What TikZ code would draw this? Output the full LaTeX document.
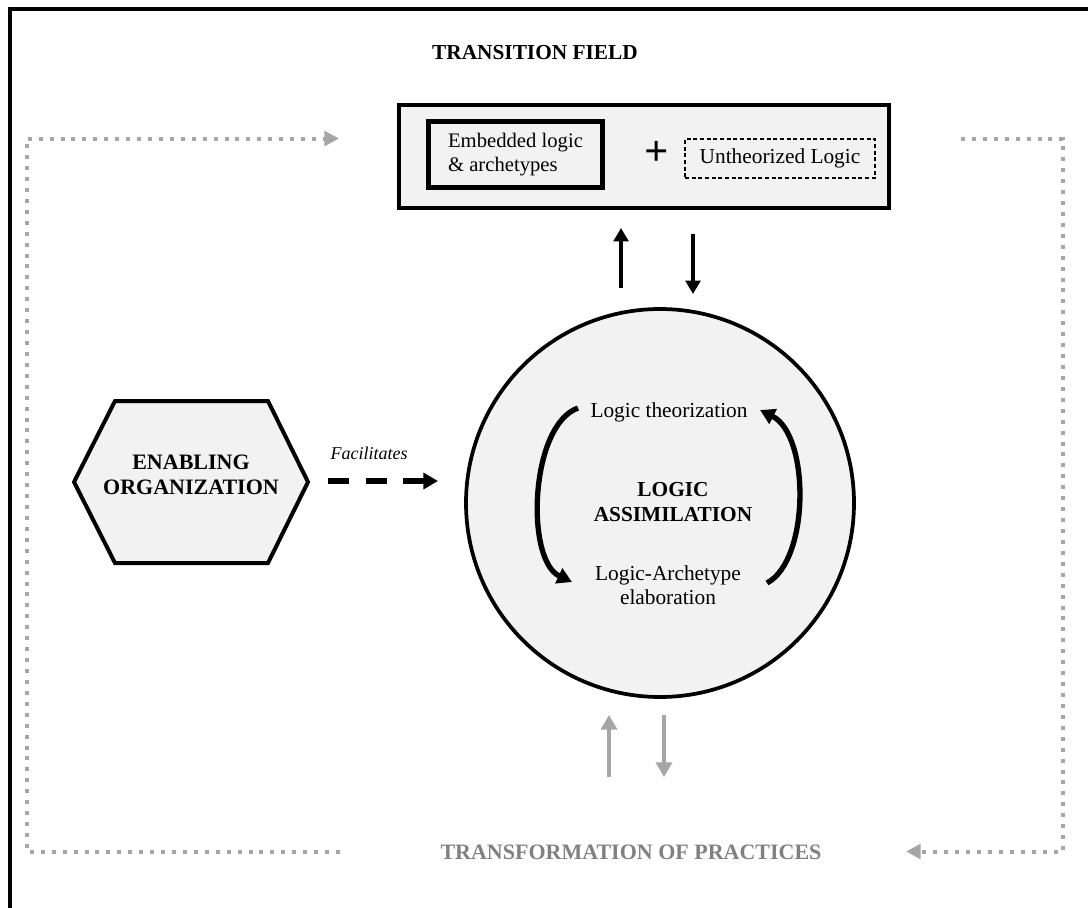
\documentclass[tikz,border=0pt]{standalone}
\usepackage{fontspec}
\setmainfont{Liberation Serif}
\usetikzlibrary{arrows.meta}
\definecolor{boxgray}{HTML}{F2F2F2}
\definecolor{loopgray}{HTML}{A6A6A6}
\definecolor{textgray}{HTML}{808080}
\tikzset{
  boldlabel/.style={font=\fontsize{16}{18.75}\selectfont\bfseries, align=center},
  thinlabel/.style={font=\fontsize{16}{18}\selectfont, align=center},
  blackarrow/.style={line width=3.2pt, -{Triangle[length=10pt,width=11pt]}},
  grayarrow/.style={line width=3.6pt, draw=loopgray, -{Triangle[length=11pt,width=12pt]}, color=loopgray},
  loopline/.style={line width=3pt, draw=loopgray, dash pattern=on 3pt off 5.2pt},
  looparrow/.style={loopline, -{Triangle[length=11pt,width=11pt,fill=loopgray]}},
  cyclearrow/.style={line width=4pt, -{Triangle[length=11pt,width=12pt]}},
}
\begin{document}
\begin{tikzpicture}[x=0.75pt,y=-0.75pt]
\useasboundingbox (0,0) rectangle (1088,907);
% outer frame (right and bottom edges lie beyond the picture)
\draw[line width=3pt] (1100,8.5) -- (9.5,8.5) -- (9.5,920);

% title
\node[boldlabel] (title) at (535,53) {TRANSITION FIELD};

% transition field box
\node[draw, line width=2.5pt, fill=boxgray, minimum width=367.5pt, minimum height=77.25pt, inner sep=0pt] (tf) at (644,156.5) {};
\node[draw, line width=3.6pt, fill=boxgray, minimum width=131pt, minimum height=49pt, align=left, font=\fontsize{15.5}{18.5}\selectfont] (emb) at (515.5,154.5) {Embedded logic\\\& archetypes};
\node[font=\fontsize{32}{32}\selectfont\bfseries] (plus) at (657,153) {+};
\node[draw, line width=0.9pt, dash pattern=on 3pt off 2pt, minimum width=142.5pt, minimum height=29.25pt, inner sep=0pt, font=\fontsize{16}{18.5}\selectfont] (unth) at (780,158.5) {Untheorized Logic};

% arrows between field and circle
\coordinate (upA) at (621,288);
\coordinate (upB) at (621,228);
\coordinate (dnA) at (693,234);
\coordinate (dnB) at (693,294);
\draw[blackarrow] (upA) -- (upB);
\draw[blackarrow] (dnA) -- (dnB);

% circle
\node[circle, draw, line width=2.8pt, fill=boxgray, minimum size=291pt, inner sep=0pt] (circ) at (660,503) {};
\node[thinlabel] (theo) at (669,412) {Logic theorization};
\node[boldlabel] (assim) at (673,502) {LOGIC\\ASSIMILATION};
\node[thinlabel] (elab) at (668,585) {Logic-Archetype\\elaboration};
\coordinate (lA) at (578,408);
\coordinate (lB) at (572,582);
\coordinate (rA) at (767,583);
\coordinate (rB) at (760,410);
\draw[cyclearrow] (lA) .. controls (530,425) and (525,560) .. (lB);
\draw[cyclearrow] (rA) .. controls (810,560) and (810,435) .. (rB);

% enabling organization hexagon
\draw[line width=3pt, fill=boxgray, line join=miter] (74,482) -- (115,401) -- (268,401) -- (308,482) -- (268,563) -- (115,563) -- cycle;
\node[boldlabel, font=\fontsize{16.5}{18.75}\selectfont\bfseries] (enab) at (191,475) {ENABLING\\ORGANIZATION};
\coordinate (facA) at (328,481);
\coordinate (facB) at (438,481);
\draw[line width=3.9pt, dash pattern=on 15.75pt off 12.5pt, -{Triangle[length=11pt,width=12pt]}] (facA) -- (facB);
\node[font=\fontsize{13.5}{15}\selectfont\itshape] (fac) at (369,453) {Facilitates};

% gray arrows to practices
\coordinate (gupA) at (609,777);
\coordinate (gupB) at (609,715);
\coordinate (gdnA) at (664,715);
\coordinate (gdnB) at (664,777);
\draw[grayarrow] (gupA) -- (gupB);
\draw[grayarrow] (gdnA) -- (gdnB);

\node[boldlabel, font=\fontsize{16.5}{18.75}\selectfont\bfseries, text=textgray] (prac) at (631,852) {TRANSFORMATION OF PRACTICES};

% dotted feedback loops
\coordinate (bl) at (340,851.5);
\coordinate (tlE) at (339,138.5);
\draw[looparrow] (bl) -- (26.5,851.5) -- (26.5,138.5) -- (tlE);
\coordinate (tr) at (961,139);
\coordinate (brE) at (906,851.5);
\draw[looparrow] (tr) -- (1063,139) -- (1063,851.5) -- (brE);
\end{tikzpicture}
\end{document}
